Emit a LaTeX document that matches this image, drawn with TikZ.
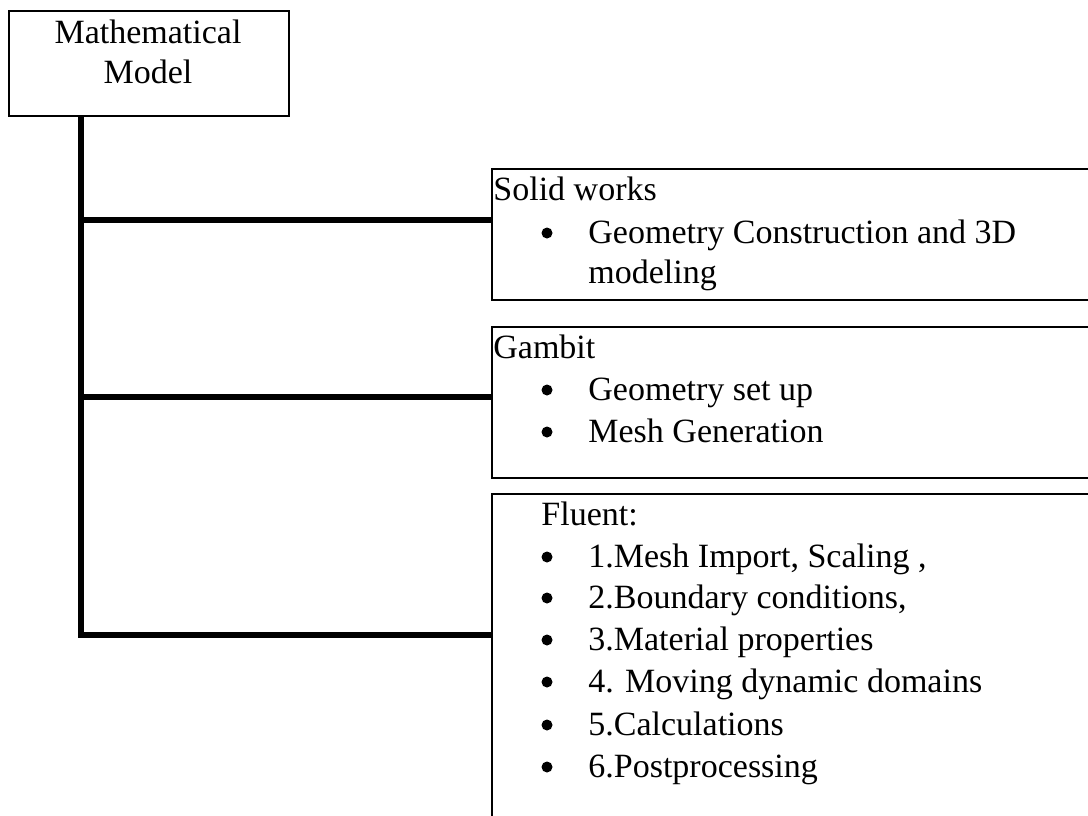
\documentclass[tikz,border=0pt]{standalone}
\usepackage{fontspec}
\setmainfont{Liberation Serif}

\begin{document}
\begin{tikzpicture}[x=0.5pt,y=-0.5pt,
    box/.style={draw, line width=1pt, rectangle, inner sep=0pt, anchor=north west},
    trunk/.style={line width=3pt},
    txt/.style={anchor=base west, inner sep=0pt, font=\fontsize{17}{20}\selectfont},
    dot/.style={circle, fill, inner sep=0pt, minimum size=5.5pt}]
  \useasboundingbox (0,0) rectangle (1088,815);
  \clip (0,0) rectangle (1088,815);
  \def\xb{491} % left edge of the tool boxes
  \def\xd{547} % bullets
  \def\xt{588} % item texts

  % Model box
  \node[box, minimum width=140pt, minimum height=52.5pt] (model) at (8,10) {};
  \node[txt, anchor=base] (modelt1) at (148,43) {Mathematical};
  \node[txt, anchor=base] (modelt2) at (148,83) {Model};

  % Tool boxes (cut by the right and bottom edges)
  \node[box, minimum width=310pt, minimum height=65.5pt] (solid) at (\xb,168) {};
  \node[box, minimum width=310pt, minimum height=75.5pt] (gambit) at (\xb,326) {};
  \node[box, minimum width=310pt, minimum height=180pt] (fluent) at (\xb,493) {};

  % Headings
  \node[txt] (solidh) at (\xb+2,200) {Solid works};
  \node[txt] (gambith) at (\xb+2,358) {Gambit};
  \node[txt] (fluenth) at (541,525) {Fluent:};

  % Solid works items
  \node[dot] (sd1) at (\xd,233) {};
  \node[txt] (sl1) at (\xt,243) {Geometry Construction and 3D};
  \node[txt] (sl2) at (\xt,283) {modeling};

  % Gambit items
  \foreach \y/\lab [count=\i] in {400/Geometry set up, 442/Mesh Generation}
    {\node[dot] (gd\i) at (\xd,\y-10) {};
     \node[txt] (gl\i) at (\xt,\y) {\lab};}

  % Fluent items
  \foreach \y/\lab [count=\i] in {{567/1.Mesh Import, Scaling ,},
      {608/2.Boundary conditions,}, 650/3.Material properties,
      692/4. Moving dynamic domains, 735/5.Calculations, 777/6.Postprocessing}
    {\node[dot] (fd\i) at (\xd,\y-10) {};
     \node[txt] (fl\i) at (\xt,\y) {\lab};}

  % Connectors
  \coordinate (j1) at (81,220);
  \coordinate (j2) at (81,397);
  \coordinate (j3) at (81,635);
  \draw[trunk] (model.south -| j3) -- (j3) -- (j3 -| fluent.west);
  \draw[trunk] (j1) -- (j1 -| solid.west);
  \draw[trunk] (j2) -- (j2 -| gambit.west);
\end{tikzpicture}
\end{document}
